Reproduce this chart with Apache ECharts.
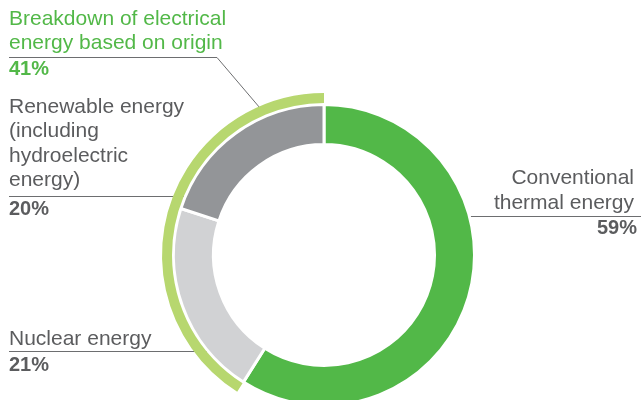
<!DOCTYPE html>
<html>
<head>
<meta charset="utf-8">
<script src="https://cdn.jsdelivr.net/npm/echarts@6/dist/echarts.min.js"></script>
<style>html,body{margin:0;padding:0;background:#fff;}#c{width:641px;height:400px;}</style>
</head>
<body>
<div id="c"></div>
<script>
// Data
const categories = ['Conventional thermal energy', 'Nuclear energy', 'Renewable energy (including hydroelectric energy)'];
const values = [59, 21, 20];
const colors = ['#52b848', '#d1d2d4', '#939598'];
const groupLabel = 'Breakdown of electrical energy based on origin';
const groupValue = 41; // nuclear + renewable
const percentLabels = ['59%', '21%', '20%'];
const groupPercent = '41%';

const chart = echarts.init(document.getElementById('c'), null, {renderer: 'canvas'});
const FONT = '"Liberation Sans", Arial, Helvetica, sans-serif';
const TXT = '#5b5c5e';
const GREEN = '#52b848';
const LINE = '#6d6e70';

function text(x, y, str, opt) {
  return {
    type: 'text', silent: true,
    style: Object.assign({
      x: x, y: y, text: str, fill: TXT, font: '21px ' + FONT,
      lineHeight: 24.3, verticalAlign: 'top', align: 'left'
    }, opt || {})
  };
}
function line(points) {
  return { type: 'polyline', silent: true, shape: { points: points },
    style: { stroke: LINE, lineWidth: 1, fill: null } };
}

const option = {
  animation: false,
  series: [
    {
      type: 'pie', silent: true, startAngle: 90, clockwise: true,
      center: [324, 255], radius: [110.5, 150.5],
      label: { show: false }, labelLine: { show: false },
      itemStyle: { borderColor: '#fff', borderWidth: 3 },
      data: categories.map((c, i) => ({ name: c, value: values[i], itemStyle: { color: colors[i] } }))
    },
    {
      type: 'pie', silent: true, startAngle: 90, clockwise: true,
      center: [324, 255], radius: [152, 162],
      label: { show: false }, labelLine: { show: false },
      data: [
        { name: 'rest', value: 100 - groupValue, itemStyle: { color: 'rgba(0,0,0,0)' } },
        { name: groupLabel, value: groupValue, itemStyle: { color: '#b7d76f' } }
      ]
    }
  ],
  graphic: [
    text(9, 7, 'Breakdown of electrical\nenergy based on origin', { fill: GREEN, lineHeight: 24 }),
    text(9, 57, groupPercent, { fill: GREEN, font: 'bold 20px ' + FONT, lineHeight: 24 }),
    line([[9, 57.5], [217, 57.5], [260, 108]]),

    text(9, 95, 'Renewable energy\n(including\nhydroelectric\nenergy)'),
    text(9, 197, percentLabels[2], { font: 'bold 20px ' + FONT, lineHeight: 24 }),
    line([[9, 196.5], [203, 196.5]]),

    text(9, 327, 'Nuclear energy', { lineHeight: 24 }),
    text(9, 353, percentLabels[1], { font: 'bold 20px ' + FONT, lineHeight: 24 }),
    line([[9, 351.5], [224, 351.5]]),

    text(634, 166, 'Conventional\nthermal energy', { align: 'right', lineHeight: 25 }),
    text(637, 216, percentLabels[0], { align: 'right', font: 'bold 20px ' + FONT, lineHeight: 24 }),
    line([[457, 216.5], [641, 216.5]])
  ]
};
chart.setOption(option);
</script>
</body>
</html>
